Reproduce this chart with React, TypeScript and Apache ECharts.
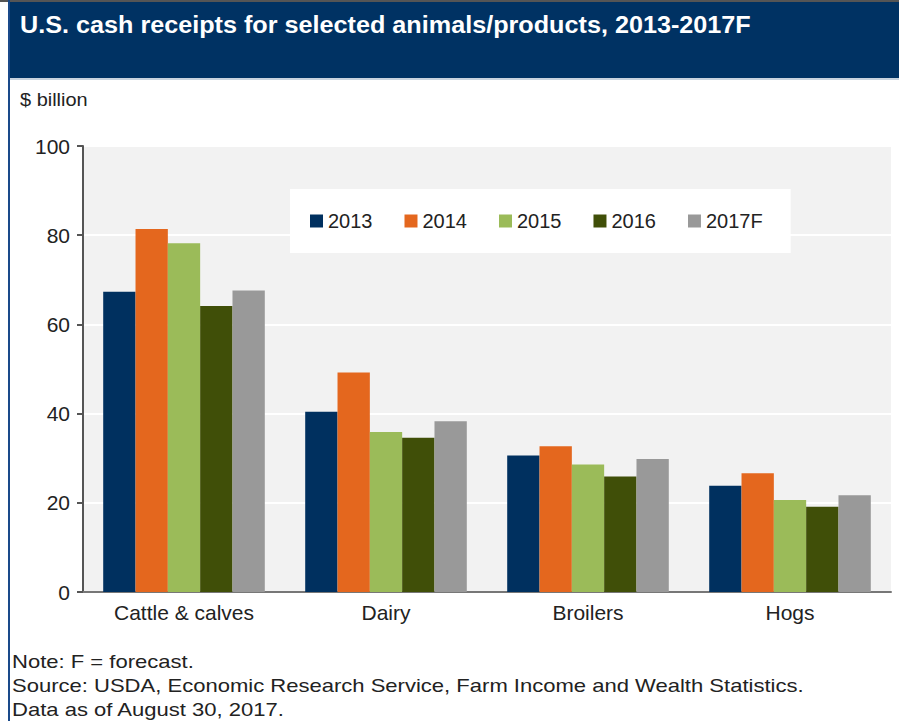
import React, { useEffect, useRef } from "react";
import * as echarts from "echarts";

const categories = ["Cattle & calves", "Dairy", "Broilers", "Hogs"];
const seriesNames = ["2013", "2014", "2015", "2016", "2017F"];
const v2013 = [67.3, 40.4, 30.6, 23.8];
const v2014 = [81.4, 49.2, 32.7, 26.6];
const v2015 = [78.2, 35.9, 28.6, 20.6];
const v2016 = [64.1, 34.6, 25.9, 19.1];
const v2017F = [67.6, 38.3, 29.8, 21.7];
const seriesValues = [v2013, v2014, v2015, v2016, v2017F];
const colors = ["#00305f", "#e4671e", "#9bbb59", "#404f08", "#999999"];
const yTicks = [0, 20, 40, 60, 80, 100];

const titleText = "U.S. cash receipts for selected animals/products, 2013-2017F";
const unitText = "$ billion";
const notes = [
  "Note: F = forecast.",
  "Source: USDA, Economic Research Service, Farm Income and Wealth Statistics.",
  "Data as of August 30, 2017.",
];

const FONT = "'Liberation Sans', Arial, sans-serif";

export default function App() {
  const ref = useRef<HTMLDivElement>(null);
  useEffect(() => {
    if (!ref.current) return;
    const chart = echarts.init(ref.current, undefined, { renderer: "svg" });
    chart.setOption({
      animation: false,
      backgroundColor: "#ffffff",
      textStyle: { fontFamily: FONT },
      graphic: [
        { type: "rect", shape: { x: 0, y: 0, width: 899, height: 2 }, style: { fill: "#555" }, z: 0 },
        { type: "rect", shape: { x: 8, y: 2, width: 891, height: 76 }, style: { fill: "#003263" }, z: 0 },
        { type: "rect", shape: { x: 8, y: 78, width: 891, height: 2 }, style: { fill: "#c8d3de" }, z: 0 },
        { type: "rect", shape: { x: 8, y: 0, width: 2, height: 721 }, style: { fill: "#1a4a8a" }, z: 0 },
        {
          type: "text",
          x: 20,
          y: 13,
          scaleX: 1.05,
          style: { text: titleText, fill: "#ffffff", font: `bold 24px ${FONT}` },
        },
        {
          type: "text",
          x: 20,
          y: 90,
          scaleX: 1.05,
          style: { text: unitText, fill: "#222", font: `19px ${FONT}` },
        },
        ...notes.map((t, i) => ({
          type: "text",
          x: 12,
          y: 652 + i * 24,
          scaleX: 1.16,
          style: { text: t, fill: "#222", font: `19px ${FONT}` },
        })),
      ],
      legend: {
        data: seriesNames,
        left: 290,
        top: 189,
        padding: [22, 28, 22, 20],
        backgroundColor: "#ffffff",
        itemWidth: 13,
        itemHeight: 13,
        itemGap: 32,
        icon: "rect",
        textStyle: { fontSize: 20, color: "#222", fontFamily: FONT, padding: [0, 0, 0, 0] },
        z: 5,
      },
      grid: {
        left: 83,
        right: 8,
        top: 146,
        bottom: 129,
        show: true,
        backgroundColor: "#f2f2f2",
        borderWidth: 0,
      },
      xAxis: {
        type: "category",
        data: categories,
        axisLine: { show: true, lineStyle: { color: "#777", width: 2 } },
        axisTick: { show: false },
        axisLabel: { fontSize: 21, color: "#222", margin: 10, fontFamily: FONT },
      },
      yAxis: {
        type: "value",
        min: yTicks[0],
        max: yTicks[yTicks.length - 1],
        interval: 20,
        axisLine: { show: true, lineStyle: { color: "#555", width: 2 } },
        axisTick: { show: true, length: 6, lineStyle: { color: "#555", width: 2 } },
        axisLabel: { fontSize: 21, color: "#222", margin: 13, fontFamily: FONT },
        splitLine: { show: true, lineStyle: { color: "#ffffff", width: 2 } },
      },
      series: seriesNames.map((name, i) => ({
        name,
        type: "bar",
        data: seriesValues[i],
        barGap: "0%",
        barCategoryGap: "20%",
        itemStyle: { color: colors[i] },
      })),
    });
    return () => chart.dispose();
  }, []);
  return (
    <div
      ref={ref}
      style={{ position: "fixed", left: 0, top: 0, width: 899, height: 721 }}
    />
  );
}
